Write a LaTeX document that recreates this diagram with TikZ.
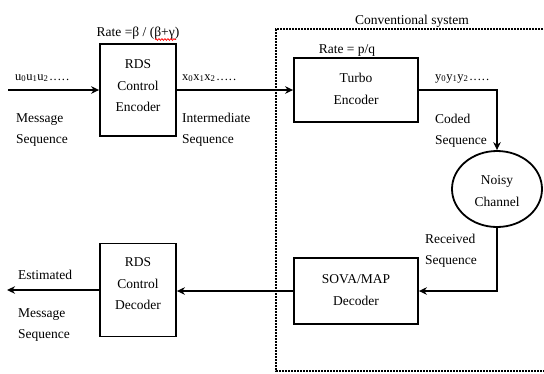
\documentclass[tikz,border=0pt]{standalone}
\usepackage{fontspec}
\setmainfont{Liberation Serif}
\usetikzlibrary{arrows.meta,shapes.geometric,decorations.pathmorphing}

\newcommand{\seqdots}{\kern1pt.\kern1pt.\kern1pt.\kern1pt.\kern1pt.}

\begin{document}
\begin{tikzpicture}[x=1pt,y=-1pt,
  blockbox/.style={draw,line width=1.8pt,inner sep=0pt},
  txt/.style={font=\fontsize{13.5}{21}\selectfont,inner sep=0pt,align=left},
  ctxt/.style={font=\fontsize{13.5}{21.5}\selectfont,inner sep=0pt,align=center},
  subtxt/.style={font=\fontsize{12.5}{14}\selectfont,inner sep=0pt},
  flow/.style={line width=1.9pt,-{Stealth[length=8pt,width=7.5pt]}},
  frame/.style={line width=2pt,dash pattern=on 1.6pt off 1.4pt}]
\useasboundingbox (0,0) rectangle (544,373);

% processing blocks
\node[blockbox,minimum width=76pt,minimum height=92pt] (enc) at (138,90) {};
\node[blockbox,minimum width=124pt,minimum height=64pt] (turbo) at (356,90) {};
\node[blockbox,ellipse,minimum width=90pt,minimum height=76pt] (chan) at (497,189) {};
\node[blockbox,minimum width=124pt,minimum height=66pt] (sova) at (356,291) {};
\node[blockbox,minimum width=76pt,minimum height=93pt] (dec) at (138,290) {};

% block captions
\node[ctxt] (enctxt) at (138,86) {RDS\\Control\\Encoder};
\node[ctxt] (turbotxt) at (356,89) {Turbo\\Encoder};
\node[ctxt] (chantxt) at (497,191) {Noisy\\Channel};
\node[ctxt] (sovatxt) at (356,290) {SOVA/MAP\\Decoder};
\node[ctxt] (dectxt) at (138,284) {RDS\\Control\\Decoder};

% conventional system boundary
\coordinate (ftr) at (546,29);
\coordinate (ftl) at (276,29);
\coordinate (fbl) at (276,371);
\coordinate (fbr) at (546,371);
\draw[frame] (ftr) -- (ftl) -- (fbl) -- (fbr);
\node[txt,anchor=base] (conv) at (412,24) {Conventional system};

% signal flow
\coordinate (in) at (8,90);
\coordinate (out) at (7,292);
\draw[flow] (in) -- (enc.west);
\draw[flow] (enc.east) -- (turbo.west);
\draw[flow] (turbo.east) -| (chan.north);
\draw[flow] (chan.south) |- (sova.east);
\draw[flow] (sova.west) -- (sova.west -| dec.east);
\draw[flow] (dec.west) -- (dec.west -| out);

% rates
\node[txt,anchor=base] (rate1) at (138,36) {Rate =β / (β+γ)};
\coordinate (sq1) at (155,39.5);
\coordinate (sq2) at (176,39.5);
\draw[red,line width=0.7pt,decorate,decoration={snake,amplitude=0.9pt,segment length=3pt}] (sq1) -- (sq2);
\node[txt,anchor=base] (rate2) at (347,53) {Rate = p/q};

% sequence labels (multi-line labels are anchored on their last baseline)
\node[subtxt,anchor=base west] (useq) at (15,80)
  {u\textsubscript{0}u\textsubscript{1}u\textsubscript{2}\seqdots};
\node[txt,anchor=base west] (msg) at (16,143) {Message\\Sequence};
\node[subtxt,anchor=base west] (xseq) at (182,80)
  {x\textsubscript{0}x\textsubscript{1}x\textsubscript{2}\seqdots};
\node[txt,anchor=base west] (inter) at (182,143) {Intermediate\\Sequence};
\node[subtxt,anchor=base west] (yseq) at (435,80)
  {y\textsubscript{0}y\textsubscript{1}y\textsubscript{2}\seqdots};
\node[txt,anchor=base west] (coded) at (435,144) {Coded\\Sequence};
\node[txt,anchor=base west] (recv) at (425,264) {Received\\Sequence};
\node[txt,anchor=base west] (est) at (18,279) {Estimated};
\node[txt,anchor=base west] (estmsg) at (18,338) {Message\\Sequence};
\end{tikzpicture}
\end{document}
